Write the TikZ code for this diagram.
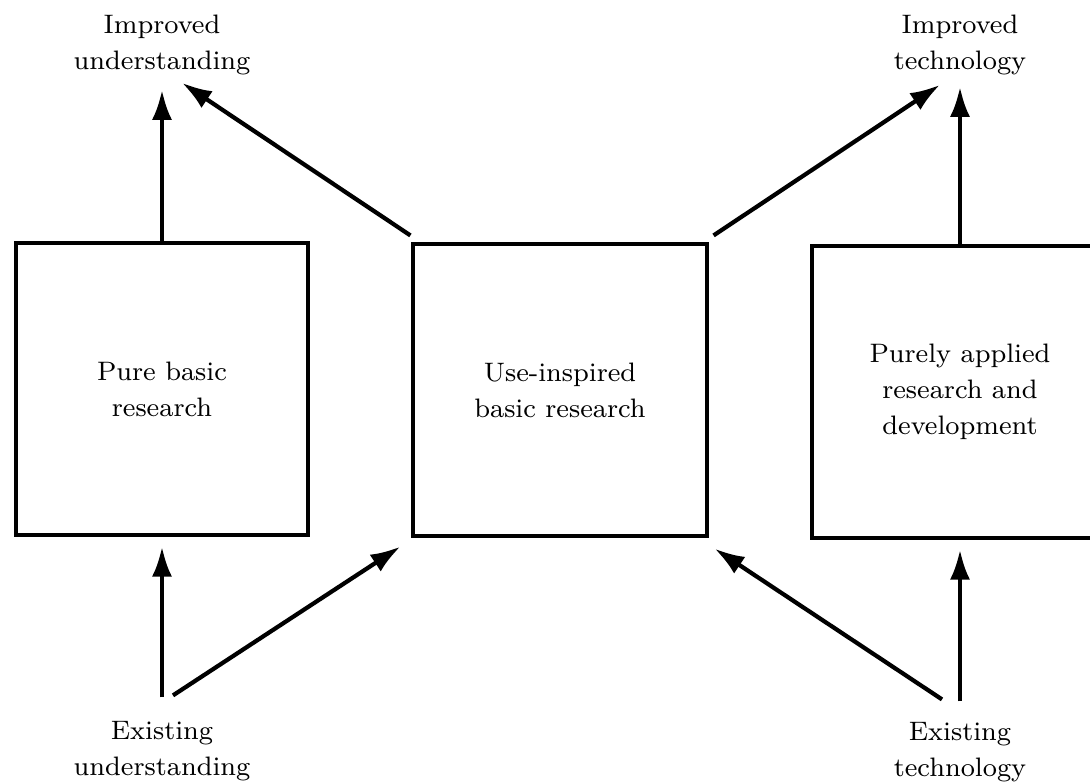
\documentclass[tikz,border=0pt]{standalone}
\usepackage{tikz}
\usetikzlibrary{calc,arrows.meta}

\begin{document}
\begin{tikzpicture}[
		x=0.1mm, y=-0.1mm,
		important line/.style={line width=1.2pt, -{Latex[length=3mm,width=2mm]}},
		box line/.style={line width=0.9pt},
		every node/.style={color=black, font=\fontsize{7.6}{10.3}\selectfont},
		]
		\tikzset{
			researchBox/.style={box line, draw, minimum width=29.2mm, minimum height=29.2mm, align=center, inner sep=0pt},
			outcomeNode/.style={align=center, inner sep=0pt},
		}
		\useasboundingbox (0,0) rectangle (1090,781);
		\clip (0,0) rectangle (1090,781);
		
		\node[researchBox] (pure) at (162,389) {Pure basic\\research};
		\node[researchBox, minimum width=29.4mm] (inspired) at (560,390) {Use-inspired\\basic research};
		\node[researchBox, minimum width=29.6mm] (applied) at (960,392) {Purely applied\\research and\\development};
		
		\node[outcomeNode] (impUnd) at (162,45) {Improved\\understanding};
		\node[outcomeNode] (impTech) at (960,45) {Improved\\technology};
		\node[outcomeNode] (exUnd) at (162,751) {Existing\\understanding};
		\node[outcomeNode] (exTech) at (960,752) {Existing\\technology};
		
		\draw[important line] (pure.north) -- ([yshift=-1.4mm]impUnd.south);
		\draw[important line] ([shift={(-1,-7)}]inspired.north west) -- ([shift={(20,7)}]impUnd.south);
		\draw[important line] ([shift={(5,-7)}]inspired.north east) -- ([shift={(-20,9)}]impTech.south);
		\draw[important line] (applied.north) -- ([yshift=-1.1mm]impTech.south);
		
		\draw[important line] ([yshift=2.3mm]exUnd.north) -- ([yshift=-1mm]pure.south);
		\draw[important line] ([shift={(11,-25)}]exUnd.north) -- ([shift={(-11,9)}]inspired.south west);
		\draw[important line] ([shift={(-18,-22)}]exTech.north) -- ([shift={(6,11)}]inspired.south east);
		\draw[important line] ([yshift=2mm]exTech.north) -- ([yshift=-1mm]applied.south);
	\end{tikzpicture}
\end{document}
